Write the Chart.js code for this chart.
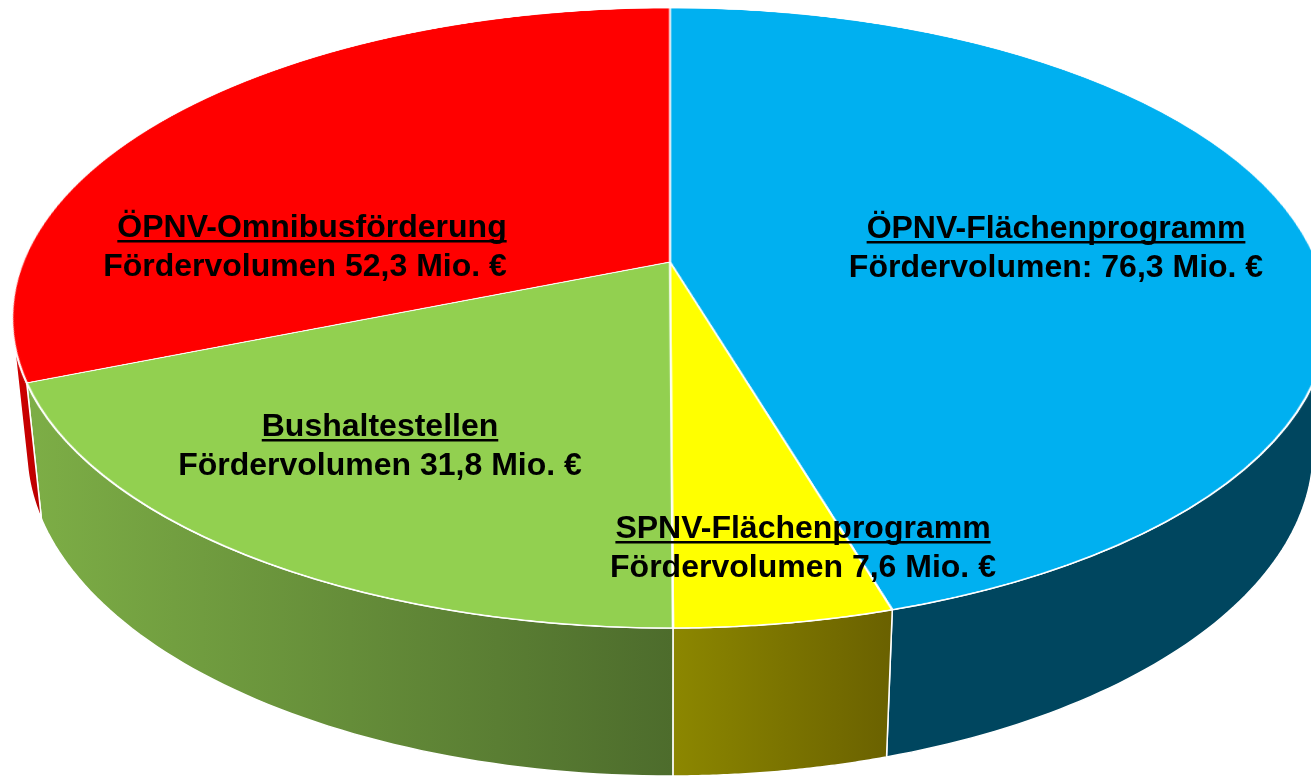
<!DOCTYPE html>
<html>
<head>
<meta charset="utf-8">
<script src="https://cdn.jsdelivr.net/npm/chart.js@4.4.0/dist/chart.umd.min.js"></script>
<style>
  html, body { margin: 0; padding: 0; background: #fff; }
  canvas { display: block; }
</style>
</head>
<body>
<canvas id="pie" width="1311" height="778"></canvas>
<script>
// Data
const categories = ['ÖPNV-Flächenprogramm', 'SPNV-Flächenprogramm', 'Bushaltestellen', 'ÖPNV-Omnibusförderung'];
const volumes = [76.3, 7.6, 31.8, 52.3]; // Mio. €
const volumeCaptions = ['Fördervolumen:', 'Fördervolumen', 'Fördervolumen', 'Fördervolumen'];

// Colours: top face and side wall (left -> right gradient)
const topColors = ['#00B0F0', '#FFFF00', '#92D050', '#FF0000'];
const sideColors = [['#00465F', '#00465F'], ['#8C8700', '#6A6100'], ['#7DAE46', '#4D6C2C'], ['#D40000', '#B80000']];

// where the two text lines of each slice sit
const labelSpots = [
    { x1: 1056, x2: 1056, y: 238 },
    { x1: 803, x2: 803, y: 538 },
    { x1: 380, x2: 380, y: 436 },
    { x1: 312, x2: 305, y: 237 }
];

// camera looking down on the pie (pie radius = 1 unit), fitted to the picture
const view = { x: 670, y: 262, f: 3173, dist: 4.904, elev: 27.61 * Math.PI / 180, depth: 0.2311 };

function project(X, Z, Y) {
    const sa = Math.sin(view.elev), ca = Math.cos(view.elev);
    const H = view.dist * sa, L = view.dist * ca;
    const dz = -(Y - H) * sa - (Z - L) * ca;
    const yc = (Y - H) * ca - (Z - L) * sa;
    return [view.x + view.f * X / dz, view.y - view.f * yc / dz];
}

// flat pie is drawn here by the chart's arc elements, then laid down in perspective
const flat = document.createElement('canvas');
flat.width = 1640;
flat.height = 1640;
const flatCtx = flat.getContext('2d');

function drawSides(ctx, arcs) {
    const sideLimit = Math.asin(1 / (view.dist * Math.cos(view.elev)));
    arcs.forEach((arc, i) => {
        const a1 = Math.max(arc.startAngle, sideLimit);
        const a2 = Math.min(arc.endAngle, Math.PI - sideLimit);
        if (a1 >= a2) return;
        const n = 60;
        const pts = [];
        for (let j = 0; j <= n; j++) {
            const t = a1 + (a2 - a1) * j / n;
            pts.push(project(Math.cos(t), Math.sin(t), 0));
        }
        for (let j = n; j >= 0; j--) {
            const t = a1 + (a2 - a1) * j / n;
            pts.push(project(Math.cos(t), Math.sin(t), -view.depth));
        }
        const xs = pts.map(p => p[0]);
        const g = ctx.createLinearGradient(Math.min(...xs), 0, Math.max(...xs), 0);
        g.addColorStop(0, sideColors[i][0]);
        g.addColorStop(1, sideColors[i][1]);
        ctx.beginPath();
        pts.forEach((p, j) => j ? ctx.lineTo(p[0], p[1]) : ctx.moveTo(p[0], p[1]));
        ctx.closePath();
        ctx.fillStyle = g;
        ctx.fill();
        ctx.strokeStyle = '#ffffff';
        ctx.lineWidth = 1.5;
        ctx.stroke();
    });
}

function layTopFace(ctx, arc) {
    const sa = Math.sin(view.elev), ca = Math.cos(view.elev);
    const a = view.f / view.dist, b = view.f * sa / view.dist, g = ca / view.dist;
    const Rs = arc.outerRadius, cxS = flat.width / 2, cyS = flat.height / 2;
    const W = flat.width;
    ctx.save();
    ctx.imageSmoothingEnabled = true;
    ctx.imageSmoothingQuality = 'high';
    const yTop = Math.floor(view.y - b / (1 + g)) - 2;
    const yBot = Math.ceil(view.y + b / (1 - g)) + 2;
    for (let sy = yTop; sy <= yBot; sy++) {
        const s0 = sy - view.y, s1 = s0 + 1;
        const z0 = s0 / (b + g * s0), z1 = s1 / (b + g * s1);
        let y0 = cyS + z0 * Rs, y1 = cyS + z1 * Rs;
        if (y1 <= 0 || y0 >= flat.height) continue;
        y0 = Math.max(y0, 0);
        y1 = Math.min(y1, flat.height);
        const k = a / (1 - g * (z0 + z1) / 2) / Rs;
        ctx.drawImage(flat, 0, y0, W, y1 - y0, view.x - cxS * k, sy, W * k, 1);
    }
    ctx.restore();
}

const perspectivePlugin = {
    id: 'perspective',
    beforeDatasetsDraw(chart) {
        const arcs = chart.getDatasetMeta(0).data;
        drawSides(chart.ctx, arcs);
        flatCtx.setTransform(1, 0, 0, 1, 0, 0);
        flatCtx.clearRect(0, 0, flat.width, flat.height);
        flatCtx.setTransform(1, 0, 0, 1, flat.width / 2 - arcs[0].x, flat.height / 2 - arcs[0].y);
        arcs.forEach(arc => arc.draw(flatCtx));
        layTopFace(chart.ctx, arcs[0]);
        return false; // the flat pie is not drawn on the page itself
    }
};

const labelPlugin = {
    id: 'sliceLabels',
    afterDraw(chart) {
        const ctx = chart.ctx;
        ctx.save();
        ctx.font = 'bold 32px "Liberation Sans", Arial, sans-serif';
        ctx.fillStyle = '#000000';
        ctx.textAlign = 'center';
        ctx.textBaseline = 'alphabetic';
        categories.forEach((name, i) => {
            const s = labelSpots[i];
            ctx.fillText(name, s.x1, s.y);
            const w = ctx.measureText(name).width;
            ctx.fillRect(s.x1 - w / 2, s.y + 3, w, 2.5);
            const line2 = volumeCaptions[i] + ' ' + String(volumes[i]).replace('.', ',') + ' Mio. €';
            ctx.fillText(line2, s.x2, s.y + 39);
        });
        ctx.restore();
    }
};

const ctx = document.getElementById('pie').getContext('2d');
const pieChart = new Chart(ctx, {
    type: 'pie',
    data: {
        labels: categories,
        datasets: [{
            data: volumes,
            backgroundColor: topColors,
            borderColor: '#ffffff',
            borderWidth: 2.5,
            radius: 800,
            clip: false
        }]
    },
    options: {
        responsive: false,
        animation: false,
        events: [],
        plugins: {
            legend: { display: false },
            tooltip: { enabled: false }
        }
    },
    plugins: [perspectivePlugin, labelPlugin]
});
</script>
</body>
</html>
